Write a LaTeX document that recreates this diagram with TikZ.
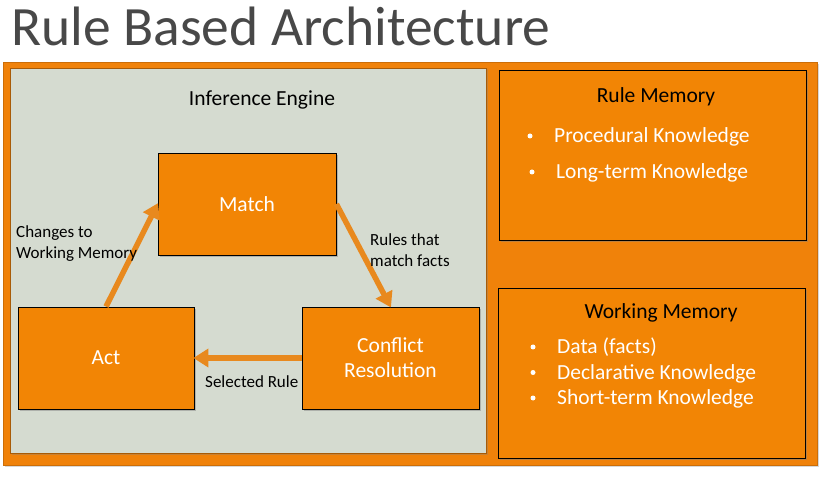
\documentclass[tikz,border=0pt]{standalone}
\usepackage{fontspec}
\setmainfont{Carlito}
\usetikzlibrary{shadows,arrows.meta}
\definecolor{boxorange}{RGB}{242,133,5}
\definecolor{frameorange}{RGB}{240,130,10}
\definecolor{flowcolor}{RGB}{232,137,30}
\definecolor{panelgray}{RGB}{213,219,208}
\definecolor{titlegray}{RGB}{72,72,72}
\begin{document}
\begin{tikzpicture}[x=1pt,y=-1pt,
  stepbox/.style={draw=black, line width=0.8pt, fill=boxorange,
    drop shadow={shadow xshift=2pt, shadow yshift=-2pt, opacity=0.45},
    text=white, font=\fontsize{21.5}{26}\selectfont, align=center, inner sep=0pt},
  membox/.style={draw=black, line width=0.8pt, fill=boxorange,
    drop shadow={shadow xshift=2pt, shadow yshift=-2pt, opacity=0.45}, inner sep=0pt},
  flow/.style={draw=flowcolor, line width=5.5pt,
    -{Triangle[length=15pt,width=18pt]}, shorten >=-1pt},
  note/.style={font=\fontsize{17}{21}\selectfont, text=black, align=left, inner sep=0pt},
  memtitle/.style={font=\fontsize{21.5}{24}\selectfont, text=black, inner sep=0pt},
  memitem/.style={font=\fontsize{21.5}{24}\selectfont, text=white, anchor=base west, inner sep=0pt},
  dot/.style={circle, fill=white, inner sep=0pt, minimum size=5pt}]
\useasboundingbox (0,0) rectangle (825,478);
\fill[white] (0,0) rectangle (825,478);

% title
\node[anchor=base west, inner sep=0pt, text=titlegray,
  font=\fontsize{55.5}{62}\selectfont] (title) at (11,46) {Rule Based Architecture};

% outer frame and inference engine panel
\node[fill=frameorange, draw=frameorange!85!black, line width=0.4pt, inner sep=0pt,
  minimum width=814pt, minimum height=403pt,
  drop shadow={shadow xshift=1.5pt, shadow yshift=-1.5pt, opacity=0.3}] (frame) at (410,264) {};
\node[fill=panelgray, draw=frameorange!70!black, line width=0.5pt, inner sep=0pt,
  minimum width=476pt, minimum height=385pt,
  drop shadow={shadow xshift=1.5pt, shadow yshift=-1.5pt, opacity=0.35}] (panel) at (248,260.5) {};
\node[font=\fontsize{21.5}{24}\selectfont, text=black, inner sep=0pt] (engine) at (262,100) {Inference Engine};

% cycle of steps
\node[stepbox, minimum width=178pt, minimum height=102pt] (match) at (247,204) {Match};
\node[stepbox, minimum width=176pt, minimum height=102pt] (act) at (106,358) {Act};
\node[stepbox, minimum width=177pt, minimum height=102pt] (conflict) at (390.5,358) {Conflict\\[-1pt]Resolution};

\draw[flow] (act.north) -- (match.west);
\draw[flow] (match.east) -- (conflict.north);
\draw[flow] (conflict.west) -- (act.east);

\node[note, anchor=north west] (changes) at (16,225) {Changes to\\Working Memory};
\node[note, anchor=north west] (rules) at (370,233) {Rules that\\match facts};
\node[note, anchor=base west] (selected) at (205,388) {Selected Rule};

% rule memory
\node[membox, minimum width=307pt, minimum height=170pt] (rulemem) at (652.5,155) {};
\node[memtitle] (rmtitle) at (656,97) {Rule Memory};
\node[dot] (rmd1) at (530,136) {};
\node[memitem] (rmi1) at (554,143) {Procedural Knowledge};
\node[dot] (rmd2) at (532,172) {};
\node[memitem] (rmi2) at (556,179) {Long-term Knowledge};

% working memory
\node[membox, minimum width=307pt, minimum height=170pt] (workmem) at (651.5,373) {};
\node[memtitle] (wmtitle) at (661,313) {Working Memory};
\node[dot] (wmd1) at (533,347) {};
\node[memitem] (wmi1) at (557,354) {Data (facts)};
\node[dot] (wmd2) at (533,372.5) {};
\node[memitem] (wmi2) at (557,379.5) {Declarative Knowledge};
\node[dot] (wmd3) at (533,398) {};
\node[memitem] (wmi3) at (557,405) {Short-term Knowledge};
\end{tikzpicture}
\end{document}
